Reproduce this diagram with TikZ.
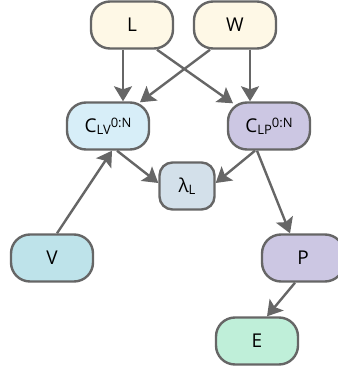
\documentclass[tikz,border=0pt]{standalone}
\usepackage{fontspec}
\setmainfont{Open Sans}
\usetikzlibrary{arrows.meta}

\definecolor{edgegray}{HTML}{666666}
\definecolor{cream}{HTML}{FEF8E6}
\definecolor{skyfill}{HTML}{D7EEF8}
\definecolor{lilac}{HTML}{CCC7E3}
\definecolor{mistfill}{HTML}{D3E0EA}
\definecolor{tealfill}{HTML}{BEE3EA}
\definecolor{mintfill}{HTML}{BFEFD9}

\newcommand{\sub}[1]{\raisebox{-2pt}{\fontsize{13}{13}\selectfont #1}}
\newcommand{\supr}[1]{\raisebox{5pt}{\fontsize{13}{13}\selectfont #1}}

\begin{document}
\begin{tikzpicture}[x=1pt, y=-1pt,
  var/.style={draw=edgegray, line width=2.4pt, rounded corners=19pt,
    minimum width=82pt, minimum height=47pt, inner sep=0pt,
    font=\fontsize{19}{19}\selectfont},
  small/.style={var, minimum width=55pt, rounded corners=13pt},
  link/.style={draw=edgegray, line width=2.4pt,
    -{Stealth[length=15pt,width=18pt,inset=3pt]}}]
  \useasboundingbox (0,0) rectangle (337,371);
  % top row
  \node[var, fill=cream] (L) at (132,25) {L};
  \node[var, fill=cream] (W) at (235,25) {W};
  % middle row
  \node[var, fill=skyfill] (LV) at (108,126) {C\sub{LV}\supr{0:N}};
  \node[var, fill=lilac] (LP) at (269,126) {C\sub{LP}\supr{0:N}};
  \node[small, fill=mistfill] (lam) at (187,186) {λ\sub{L}};
  % bottom
  \node[var, fill=tealfill] (V) at (52,258) {V};
  \node[var, fill=lilac] (P) at (303,258) {P};
  \node[var, fill=mintfill] (E) at (257,341) {E};
  % arrows
  \draw[link] ([xshift=-9pt]L.south) -- ([xshift=15pt]LV.north);
  \draw[link] ([xshift=-25pt]W.south) -- ([xshift=32pt,yshift=-1pt]LV.north);
  \draw[link] ([xshift=25pt]L.south) -- ([xshift=-36pt,yshift=-2pt]LP.north);
  \draw[link] ([xshift=15pt]W.south) -- ([xshift=-19pt]LP.north);
  \draw[link] ([xshift=9pt]LV.south) -- ([yshift=3pt]lam.west);
  \draw[link] ([xshift=-14pt]LP.south) -- ([yshift=3pt]lam.east);
  \draw[link] ([xshift=-12pt]LP.south) -- ([xshift=-13pt]P.north);
  \draw[link] ([xshift=5pt]V.north) -- ([xshift=4pt]LV.south);
  \draw[link] ([xshift=-8pt]P.south) -- ([xshift=10pt]E.north);
\end{tikzpicture}
\end{document}
